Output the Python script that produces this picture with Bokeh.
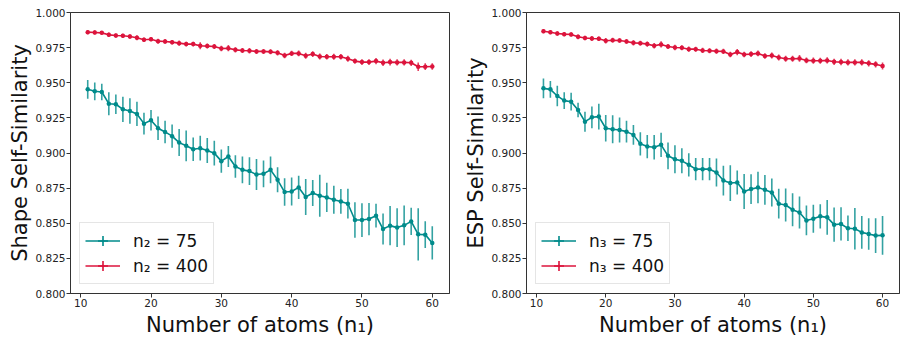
from bokeh.plotting import figure
from bokeh.models import (ColumnDataSource, Legend, LegendItem, FixedTicker,
                          NumeralTickFormatter, Range1d)
from bokeh.layouts import row
from bokeh.embed import file_html
from bokeh.resources import INLINE

n_atoms = list(range(11, 61))
x_ticks = [10, 20, 30, 40, 50, 60]
y_ticks = [0.800, 0.825, 0.850, 0.875, 0.900, 0.925, 0.950, 0.975, 1.000]

shape_n75 = [0.9453, 0.9439, 0.9434, 0.9351, 0.9347, 0.9311, 0.9299, 0.9278, 0.9209, 0.9233,
             0.9176, 0.9150, 0.9120, 0.9074, 0.9051, 0.9027, 0.9034, 0.9017, 0.8999, 0.8942,
             0.8975, 0.8904, 0.8880, 0.8871, 0.8847, 0.8852, 0.8880, 0.8809, 0.8722, 0.8726,
             0.8755, 0.8687, 0.8715, 0.8696, 0.8684, 0.8667, 0.8655, 0.8639, 0.8523, 0.8523,
             0.8530, 0.8554, 0.8459, 0.8483, 0.8469, 0.8485, 0.8513, 0.8421, 0.8419, 0.8360]
shape_n75_err = [0.0066, 0.0063, 0.0059, 0.0082, 0.0070, 0.0090, 0.0090, 0.0086, 0.0077, 0.0073,
                 0.0083, 0.0080, 0.0083, 0.0096, 0.0110, 0.0084, 0.0088, 0.0089, 0.0088, 0.0083,
                 0.0075, 0.0080, 0.0095, 0.0098, 0.0110, 0.0095, 0.0095, 0.0089, 0.0098, 0.0100,
                 0.0083, 0.0128, 0.0092, 0.0150, 0.0104, 0.0100, 0.0088, 0.0106, 0.0127, 0.0120,
                 0.0115, 0.0085, 0.0110, 0.0140, 0.0138, 0.0142, 0.0097, 0.0186, 0.0095, 0.0118]
shape_n400 = [0.9860, 0.9858, 0.9855, 0.9841, 0.9836, 0.9834, 0.9829, 0.9820, 0.9806, 0.9810,
              0.9796, 0.9794, 0.9789, 0.9782, 0.9775, 0.9775, 0.9763, 0.9761, 0.9758, 0.9744,
              0.9746, 0.9734, 0.9730, 0.9728, 0.9723, 0.9723, 0.9720, 0.9713, 0.9694, 0.9709,
              0.9709, 0.9692, 0.9704, 0.9687, 0.9685, 0.9685, 0.9685, 0.9671, 0.9654, 0.9647,
              0.9647, 0.9654, 0.9642, 0.9647, 0.9645, 0.9645, 0.9642, 0.9614, 0.9614, 0.9616]
shape_n400_err = [0.0015, 0.0015, 0.0014, 0.0016, 0.0015, 0.0015, 0.0016, 0.0018, 0.0016, 0.0015,
                  0.0018, 0.0017, 0.0016, 0.0018, 0.0017, 0.0017, 0.0025, 0.0018, 0.0018, 0.0020,
                  0.0022, 0.0019, 0.0018, 0.0019, 0.0018, 0.0018, 0.0018, 0.0019, 0.0020, 0.0019,
                  0.0020, 0.0021, 0.0020, 0.0022, 0.0020, 0.0021, 0.0020, 0.0021, 0.0019, 0.0020,
                  0.0020, 0.0022, 0.0023, 0.0024, 0.0023, 0.0022, 0.0022, 0.0030, 0.0024, 0.0023]

esp_n75 = [0.9460, 0.9453, 0.9406, 0.9373, 0.9365, 0.9306, 0.9223, 0.9254, 0.9259, 0.9176,
           0.9169, 0.9164, 0.9152, 0.9129, 0.9065, 0.9046, 0.9041, 0.9058, 0.8980, 0.8956,
           0.8944, 0.8916, 0.8885, 0.8885, 0.8885, 0.8861, 0.8804, 0.8786, 0.8790, 0.8726,
           0.8743, 0.8755, 0.8738, 0.8719, 0.8639, 0.8630, 0.8596, 0.8577, 0.8520, 0.8532,
           0.8549, 0.8542, 0.8490, 0.8495, 0.8464, 0.8461, 0.8435, 0.8424, 0.8412, 0.8414]
esp_n75_err = [0.0071, 0.0059, 0.0073, 0.0059, 0.0063, 0.0052, 0.0071, 0.0077, 0.0092, 0.0095,
               0.0100, 0.0089, 0.0077, 0.0071, 0.0083, 0.0083, 0.0088, 0.0086, 0.0095, 0.0100,
               0.0089, 0.0083, 0.0079, 0.0079, 0.0079, 0.0100, 0.0106, 0.0127, 0.0086, 0.0124,
               0.0106, 0.0112, 0.0106, 0.0100, 0.0106, 0.0118, 0.0118, 0.0114, 0.0106, 0.0100,
               0.0086, 0.0124, 0.0122, 0.0118, 0.0091, 0.0148, 0.0116, 0.0112, 0.0124, 0.0138]
esp_n400 = [0.9867, 0.9860, 0.9851, 0.9846, 0.9844, 0.9827, 0.9818, 0.9815, 0.9813, 0.9799,
            0.9803, 0.9801, 0.9794, 0.9784, 0.9782, 0.9775, 0.9763, 0.9773, 0.9758, 0.9751,
            0.9749, 0.9739, 0.9739, 0.9730, 0.9728, 0.9725, 0.9723, 0.9701, 0.9718, 0.9701,
            0.9704, 0.9709, 0.9690, 0.9694, 0.9680, 0.9671, 0.9671, 0.9673, 0.9659, 0.9657,
            0.9657, 0.9659, 0.9649, 0.9647, 0.9645, 0.9645, 0.9645, 0.9638, 0.9631, 0.9619]
esp_n400_err = [0.0015, 0.0014, 0.0016, 0.0015, 0.0015, 0.0017, 0.0016, 0.0017, 0.0016, 0.0020,
                0.0017, 0.0016, 0.0017, 0.0018, 0.0017, 0.0018, 0.0020, 0.0022, 0.0018, 0.0019,
                0.0018, 0.0019, 0.0018, 0.0019, 0.0018, 0.0019, 0.0019, 0.0020, 0.0022, 0.0020,
                0.0021, 0.0020, 0.0020, 0.0022, 0.0021, 0.0022, 0.0022, 0.0024, 0.0021, 0.0022,
                0.0021, 0.0022, 0.0022, 0.0023, 0.0022, 0.0023, 0.0022, 0.0023, 0.0022, 0.0025]

TEAL = "#008b8b"
RED = "#dc143c"
FONT = "DejaVu Sans"
AX = "#333333"


def make_panel(ylabel, series, width, border_left, border_right):
    p = figure(width=width, height=339, output_backend="svg",
               toolbar_location=None,
               x_range=Range1d(8.55, 62.45), y_range=Range1d(0.8, 1.0),
               min_border_left=border_left, min_border_right=border_right,
               min_border_top=12, min_border_bottom=10)
    p.grid.visible = False
    p.outline_line_color = AX
    p.outline_line_width = 1
    p.outline_line_alpha = 1
    for ax in (p.xaxis[0], p.yaxis[0]):
        ax.axis_line_color = AX
        ax.major_tick_line_color = AX
        ax.major_tick_out = 4
        ax.major_tick_in = 0
        ax.minor_tick_line_color = None
        ax.major_label_text_font = FONT
        ax.major_label_text_font_size = "10.5px"
        ax.major_label_text_color = "#222222"
        ax.major_label_standoff = 1
        ax.axis_label_text_font = FONT
        ax.axis_label_text_font_size = "21px"
        ax.axis_label_text_font_style = "normal"
        ax.axis_label_text_color = "#111111"
        ax.axis_label_standoff = 0
    p.xaxis.axis_label_standoff = 3
    p.xaxis.ticker = FixedTicker(ticks=x_ticks)
    p.yaxis.ticker = FixedTicker(ticks=y_ticks)
    p.yaxis.formatter = NumeralTickFormatter(format="0.000")
    p.xaxis.axis_label = "Number of atoms (n\u2081)"
    p.yaxis.axis_label = ylabel

    items = []
    for label, vals, errs, color in series:
        src = ColumnDataSource(dict(
            x=n_atoms, y=vals,
            lo=[v - e for v, e in zip(vals, errs)],
            hi=[v + e for v, e in zip(vals, errs)]))
        ln = p.line("x", "y", source=src, line_color=color, line_width=1.6)
        p.segment(x0="x", y0="lo", x1="x", y1="hi", source=src,
                  line_color=color, line_width=1.6, line_alpha=0.8)
        dots = p.scatter("x", "y", source=src, marker="dot", size=18,
                         line_color=color, fill_color=color)
        # legend-only marker, placed outside the visible range
        cross = p.scatter(x=[-100], y=[0], marker="cross", size=10,
                          line_color=color, line_width=1.6)
        items.append(LegendItem(label=label, renderers=[ln, cross, dots]))

    legend = Legend(items=items, location="bottom_left", margin=9, padding=5,
                    spacing=0, glyph_width=35, glyph_height=25, label_height=25,
                    label_standoff=13, label_text_font=FONT,
                    label_text_font_size="17px", label_text_color="#111111",
                    border_line_color="#cccccc", border_line_width=1,
                    background_fill_alpha=0.8)
    p.add_layout(legend)
    return p


left = make_panel("Shape Self-Similarity",
                  [("n\u2082 = 75", shape_n75, shape_n75_err, TEAL),
                   ("n\u2082 = 400", shape_n400, shape_n400_err, RED)],
                  460, 70, 11)
right = make_panel("ESP Self-Similarity",
                   [("n\u2083 = 75", esp_n75, esp_n75_err, TEAL),
                    ("n\u2083 = 400", esp_n400, esp_n400_err, RED)],
                   443, 66, 4)

layout = row(left, right)
open("out.html", "w").write(file_html(layout, INLINE))
